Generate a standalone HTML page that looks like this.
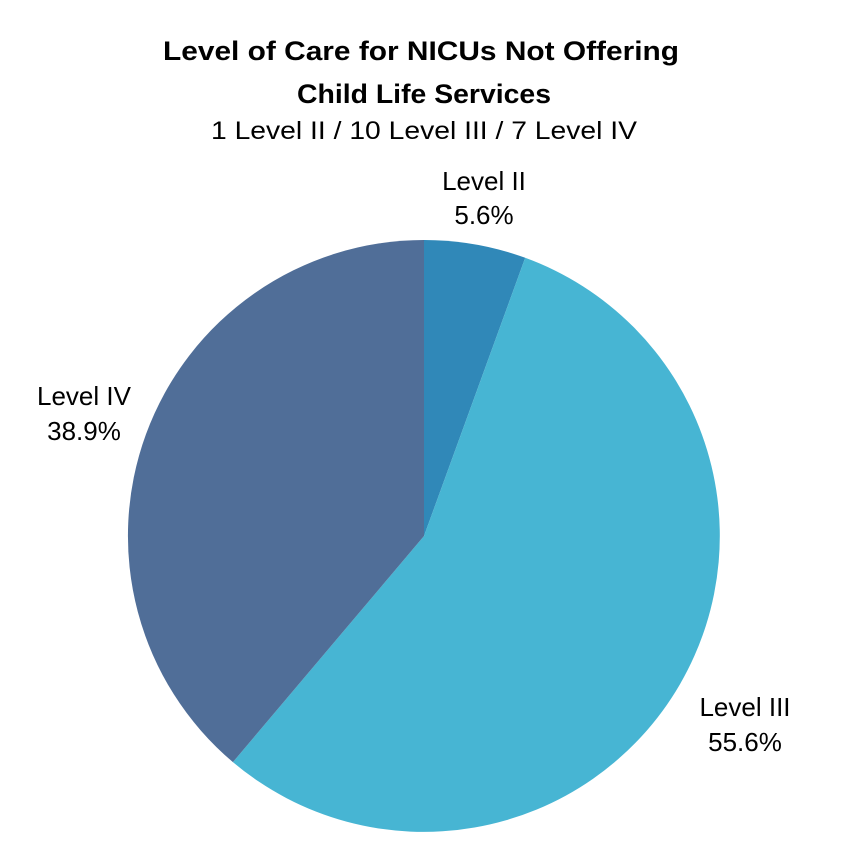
<!DOCTYPE html>
<html><head><meta charset="utf-8"><style>
html,body{margin:0;padding:0;background:#fff;}
svg{display:block;font-family:"Liberation Sans",sans-serif;}
</style></head><body>
<svg width="862" height="864" viewBox="0 0 862 864" xmlns="http://www.w3.org/2000/svg">
<rect width="862" height="864" fill="#fff"/>
<text x="163" y="60" font-size="27" font-weight="bold" fill="#000" textLength="516" lengthAdjust="spacingAndGlyphs">Level of Care for NICUs Not Offering</text>
<text x="297" y="103" font-size="27" font-weight="bold" fill="#000" textLength="254" lengthAdjust="spacingAndGlyphs">Child Life Services</text>
<text x="211" y="139" font-size="25" fill="#000" textLength="426" lengthAdjust="spacingAndGlyphs">1 Level II / 10 Level III / 7 Level IV</text>
<path d="M424,536 L424,240 A296,296 0 0 1 525.2,257.8 Z" fill="#3088b8"/>
<path d="M424,536 L525.2,257.8 A296,296 0 1 1 232.9,762.1 Z" fill="#47b5d3"/>
<path d="M424,536 L232.9,762.1 A296,296 0 0 1 424,240 Z" fill="#506e98"/>
<text x="484" y="190" text-anchor="middle" font-size="26" fill="#000">Level II</text>
<text x="484" y="224" text-anchor="middle" font-size="26" fill="#000">5.6%</text>
<text x="84" y="405" text-anchor="middle" font-size="26" fill="#000">Level IV</text>
<text x="84" y="440" text-anchor="middle" font-size="26" fill="#000">38.9%</text>
<text x="745" y="716" text-anchor="middle" font-size="26" fill="#000">Level III</text>
<text x="745" y="751" text-anchor="middle" font-size="26" fill="#000">55.6%</text>
</svg>
</body></html>
